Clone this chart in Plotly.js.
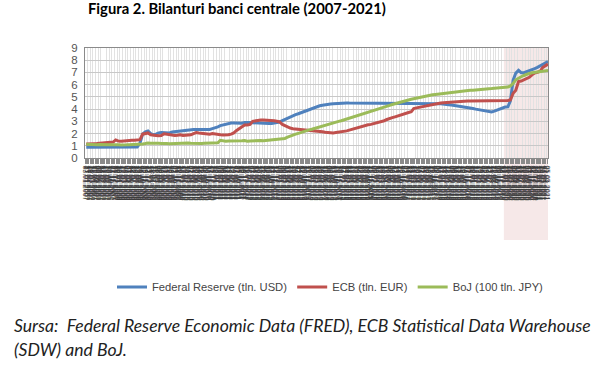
<!DOCTYPE html>
<html>
<head>
<meta charset="utf-8">
<script src="https://cdn.plot.ly/plotly-3.0.1.min.js"></script>
<style>
html,body{margin:0;padding:0;background:#fff;}
#chart{width:600px;height:369px;}
</style>
</head>
<body>
<div id="chart"></div>
<script>
// Monthly observations, Jan 2007 - May 2021
var startYear = 2007, startMonth = 1, nMonths = 173;
var months = [];
for (var i = 0; i < nMonths; i++) {
  var m = startMonth - 1 + i;
  var y = startYear + Math.floor(m / 12);
  var mm = (m % 12) + 1;
  months.push(y + '-' + (mm < 10 ? '0' : '') + mm + '-15');
}

var seriesNames = ['Federal Reserve (tln. USD)', 'ECB (tln. EUR)', 'BoJ (100 tln. JPY)'];

var fed = [
  0.87,0.87,0.88,0.88,0.88,0.88,0.88,0.88,0.88,0.89,0.89,0.89, // 2007
  0.89,0.88,0.88,0.88,0.89,0.89,0.90,0.90,1.20,1.95,2.15,2.22, // 2008
  2.00,1.90,1.95,2.05,2.08,2.05,2.02,2.05,2.12,2.15,2.18,2.22, // 2009
  2.25,2.28,2.32,2.33,2.34,2.34,2.33,2.32,2.31,2.30,2.33,2.40, // 2010
  2.45,2.55,2.65,2.72,2.78,2.84,2.87,2.87,2.86,2.86,2.85,2.90, // 2011
  2.92,2.91,2.88,2.86,2.86,2.87,2.85,2.83,2.82,2.83,2.86,2.90, // 2012
  2.95,3.05,3.15,3.25,3.35,3.45,3.55,3.62,3.70,3.80,3.90,4.00, // 2013
  4.07,4.15,4.22,4.27,4.32,4.37,4.40,4.42,4.44,4.46,4.48,4.50, // 2014
  4.50,4.50,4.49,4.49,4.50,4.50,4.49,4.49,4.50,4.50,4.49,4.49, // 2015
  4.49,4.50,4.49,4.50,4.50,4.49,4.49,4.49,4.49,4.49,4.49,4.48, // 2016
  4.49,4.49,4.48,4.49,4.48,4.48,4.49,4.48,4.47,4.46,4.45,4.44, // 2017
  4.43,4.42,4.39,4.36,4.33,4.30,4.27,4.23,4.19,4.15,4.12,4.08, // 2018
  4.05,4.00,3.96,3.93,3.90,3.85,3.80,3.77,3.83,3.93,4.03,4.13, // 2019
  4.17,4.18,4.67,6.37,6.95,7.17,6.98,6.98,7.05,7.15,7.20,7.32, // 2020
  7.42,7.55,7.68,7.80,7.90                                      // 2021
];

var ecb = [
  1.15,1.14,1.16,1.17,1.18,1.20,1.20,1.22,1.24,1.26,1.30,1.48, // 2007
  1.38,1.37,1.40,1.42,1.43,1.45,1.46,1.45,1.50,1.95,2.00,2.05, // 2008
  1.90,1.85,1.85,1.82,1.84,1.98,1.95,1.88,1.85,1.85,1.87,1.90, // 2009
  1.85,1.86,1.88,1.90,2.00,2.08,2.05,2.02,1.98,1.95,1.95,2.00, // 2010
  1.95,1.93,1.90,1.88,1.88,1.90,1.95,2.05,2.25,2.40,2.50,2.70, // 2011
  2.70,2.75,3.00,3.05,3.05,3.10,3.10,3.10,3.10,3.08,3.05,3.00, // 2012
  2.95,2.75,2.65,2.55,2.45,2.40,2.38,2.37,2.35,2.33,2.30,2.28, // 2013
  2.25,2.22,2.20,2.18,2.15,2.10,2.08,2.06,2.05,2.08,2.10,2.15, // 2014
  2.20,2.22,2.28,2.35,2.42,2.50,2.56,2.60,2.65,2.72,2.75,2.80, // 2015
  2.85,2.90,2.95,3.05,3.15,3.25,3.30,3.37,3.45,3.52,3.58,3.65, // 2016
  3.72,3.78,4.05,4.10,4.15,4.20,4.25,4.30,4.35,4.40,4.43,4.47, // 2017
  4.50,4.52,4.54,4.56,4.58,4.60,4.62,4.63,4.64,4.65,4.66,4.67, // 2018
  4.67,4.67,4.68,4.68,4.69,4.69,4.70,4.70,4.70,4.69,4.69,4.69, // 2019
  4.69,4.70,4.75,5.30,5.55,6.25,6.30,6.40,6.50,6.60,6.80,6.95, // 2020
  7.00,7.10,7.40,7.55,7.68                                      // 2021
];

var boj = [
  1.12,1.10,1.10,1.09,1.08,1.10,1.08,1.07,1.08,1.08,1.09,1.11, // 2007
  1.08,1.07,1.10,1.08,1.09,1.10,1.08,1.08,1.10,1.15,1.18,1.23, // 2008
  1.20,1.22,1.23,1.20,1.18,1.20,1.18,1.17,1.18,1.19,1.20,1.23, // 2009
  1.20,1.20,1.22,1.20,1.19,1.21,1.20,1.19,1.21,1.22,1.24,1.28, // 2010
  1.25,1.24,1.45,1.40,1.38,1.40,1.39,1.40,1.42,1.40,1.41,1.43, // 2011
  1.38,1.40,1.42,1.40,1.42,1.43,1.42,1.44,1.46,1.48,1.50,1.55, // 2012
  1.55,1.55,1.60,1.70,1.80,1.88,1.95,2.02,2.10,2.17,2.22,2.30, // 2013
  2.35,2.42,2.50,2.57,2.63,2.70,2.75,2.80,2.88,2.95,3.00,3.05, // 2014
  3.12,3.18,3.25,3.32,3.40,3.48,3.53,3.58,3.65,3.72,3.77,3.85, // 2015
  3.92,4.00,4.08,4.15,4.22,4.30,4.38,4.45,4.50,4.57,4.62,4.70, // 2016
  4.75,4.80,4.85,4.90,4.95,5.00,5.05,5.10,5.13,5.17,5.20,5.23, // 2017
  5.27,5.30,5.32,5.35,5.38,5.40,5.43,5.45,5.48,5.50,5.52,5.55, // 2018
  5.55,5.58,5.60,5.62,5.63,5.65,5.67,5.68,5.70,5.72,5.73,5.75, // 2019
  5.78,5.80,5.90,6.10,6.40,6.55,6.65,6.75,6.85,6.92,6.97,7.00, // 2020
  7.05,7.10,7.13,7.15,7.17                                      // 2021
];

var colors = ['#4F81BD', '#C0504D', '#9BBB59'];
var xRange = ['2007-01-01', '2021-05-15'];
var shadeStart = '2020-01-01';
var yTicks = [0,1,2,3,4,5,6,7,8,9];

var titleText = '<b>Figura 2. Bilanturi banci centrale (2007-2021)</b>';
var sourceLine1 = 'Sursa:  Federal Reserve Economic Data (FRED), ECB Statistical Data Warehouse';
var sourceLine2 = '(SDW) and BoJ.';

var L = 85, R = 548, T = 48, B = 158;
var W = 600, H = 369;
function px2py(yp) { return 1 - (yp - T) / (B - T); }
function px2px(xp) { return (xp - L) / (R - L); }

var data = [fed, ecb, boj].map(function (vals, k) {
  return {
    type: 'scatter', mode: 'lines', x: months, y: vals, name: seriesNames[k],
    line: {color: colors[k], width: 3}
  };
});

var layout = {
  width: W, height: H,
  margin: {l: L, r: W - R, t: T, b: H - B, pad: 0},
  paper_bgcolor: '#ffffff', plot_bgcolor: '#ffffff',
  showlegend: true,
  title: {
    text: titleText, xref: 'container', yref: 'container',
    x: 88 / W, xanchor: 'left', y: 1 - 9 / H, yanchor: 'middle',
    font: {family: 'Lato, sans-serif', size: 14.8, color: '#000'}
  },
  xaxis: {
    type: 'date', range: xRange,
    tickmode: 'linear', tick0: '2007-01-03', dtick: 14 * 86400000,
    tickformat: '%d.%m.%Y', tickangle: 90,
    tickfont: {family: 'Liberation Sans, Arial, sans-serif', size: 7, color: '#3a3a3a'},
    ticks: 'outside', ticklen: 5, tickcolor: '#8a8a8a', tickwidth: 1,
    showgrid: false,
    minor: {dtick: 'M1', showgrid: true, gridcolor: '#e2e2e2', gridwidth: 1, ticks: ''},
    showline: true, linecolor: '#8a8a8a', linewidth: 1, mirror: true,
    zeroline: false, fixedrange: true
  },
  yaxis: {
    range: [0, 9], tickmode: 'array', tickvals: yTicks,
    tickfont: {family: 'Liberation Sans, Arial, sans-serif', size: 11.5, color: '#555'},
    ticks: '', showgrid: true, gridcolor: '#c8c8c8', gridwidth: 1,
    showline: true, linecolor: '#8a8a8a', linewidth: 1, mirror: true,
    zeroline: false, fixedrange: true, ticklabelstandoff: 4
  },
  legend: {
    orientation: 'h', xref: 'paper', yref: 'paper',
    x: px2px(112), xanchor: 'left', y: px2py(287), yanchor: 'middle',
    font: {family: 'Liberation Sans, Arial, sans-serif', size: 11.2, color: '#444'},
    bgcolor: 'rgba(0,0,0,0)', itemwidth: 30, tracegroupgap: 0
  },
  shapes: [{
    type: 'rect', xref: 'x', yref: 'paper', layer: 'below',
    x0: shadeStart, x1: xRange[1], y0: px2py(240), y1: 1,
    fillcolor: 'rgba(235,205,205,0.45)', line: {width: 0}
  }],
  annotations: [
    {text: '<i>' + sourceLine1 + '</i>', xref: 'paper', yref: 'paper',
     x: px2px(12), xanchor: 'left', y: px2py(325), yanchor: 'middle', showarrow: false,
     font: {family: 'Lato, sans-serif', size: 17.6, color: '#222'}},
    {text: '<i>' + sourceLine2 + '</i>', xref: 'paper', yref: 'paper',
     x: px2px(12), xanchor: 'left', y: px2py(349), yanchor: 'middle', showarrow: false,
     font: {family: 'Lato, sans-serif', size: 17.6, color: '#222'}}
  ]
};

Plotly.newPlot('chart', data, layout, {staticPlot: true, displayModeBar: false});
</script>
</body>
</html>
